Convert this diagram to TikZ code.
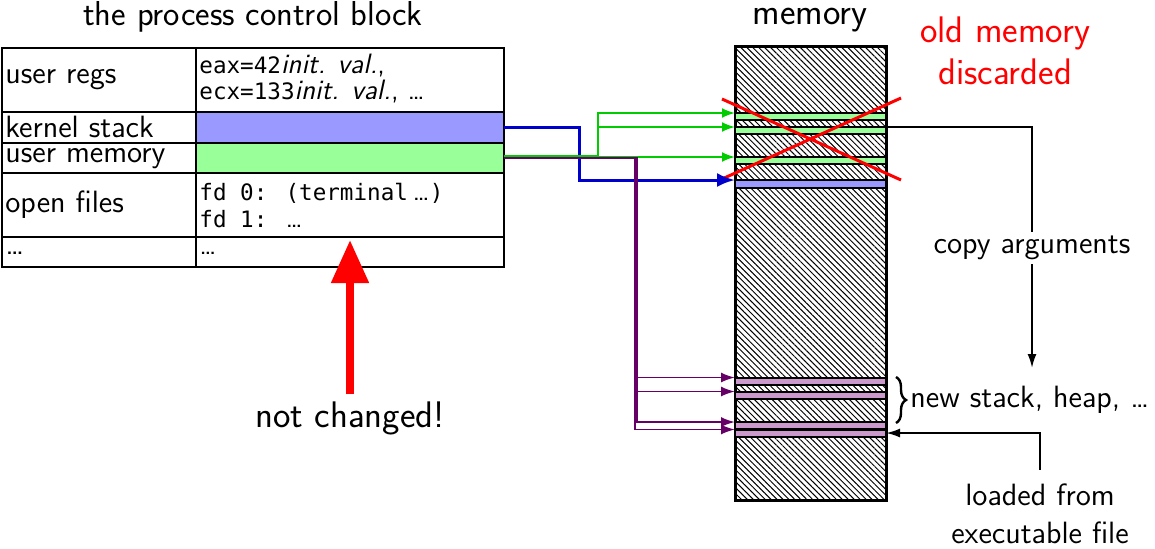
\documentclass[tikz,border=0pt]{standalone}
\usepackage{fontspec}
\newfontfamily\dvmono{DejaVu Sans Mono}[Scale=1.0]
\usetikzlibrary{arrows.meta,patterns.meta,decorations.pathreplacing,calc}
\definecolor{kfill}{HTML}{9999FF}
\definecolor{ufill}{HTML}{99FF99}
\definecolor{pfill}{HTML}{CC99CC}
\definecolor{gline}{HTML}{00CC00}
\definecolor{bline}{HTML}{0000CC}
\definecolor{pline}{HTML}{660066}
\newcommand\fbody{\fontsize{15.4}{19}\selectfont}
\newcommand\flarge{\fontsize{18.5}{21}\selectfont}
\newcommand\ftitle{\fontsize{17.3}{20}\selectfont}
\newcommand\fcell{\fontsize{14}{14}\selectfont}
\newcommand\fmono{\dvmono\fontsize{11.3}{13}\selectfont}
\begin{document}
\begin{tikzpicture}[x=0.5pt,y=-0.5pt,font=\sffamily,
  cell/.style={draw,line width=0.6pt,inner sep=0,outer sep=0,anchor=north west},
  lbl/.style={anchor=base west,inner sep=0,font=\sffamily\fbody},
  rlbl/.style={anchor=base west,inner sep=0,font=\sffamily\fcell},
  band/.style={draw,line width=1pt,minimum width=75.5pt,minimum height=3.5pt,inner sep=0,outer sep=0},
  garrow/.style={gline,line width=1pt,-{Latex[length=6.5pt,width=5pt]}},
  parrow/.style={pline,line width=0.9pt,-{Latex[length=7pt,width=5pt]}},
  barrow/.style={bline,line width=1.5pt,-{Latex[length=9pt,width=7pt]}},
  karrow/.style={black,line width=1pt,-{Latex[length=7pt,width=4.5pt]}}]
\useasboundingbox (0,0) rectangle (1155,548);

% title
\node[font=\sffamily\ftitle] (pcbtitle) at (253,17) {the process control block};

% table cells
\node[cell,minimum width=97pt,minimum height=32pt] (c11) at (2,48) {};
\node[cell,minimum width=154pt,minimum height=32pt] (c12) at (196,48) {};
\node[cell,minimum width=97pt,minimum height=15.5pt] (c21) at (2,112) {};
\node[cell,minimum width=154pt,minimum height=15.5pt,fill=kfill] (ks) at (196,112) {};
\node[cell,minimum width=97pt,minimum height=15pt] (c31) at (2,143) {};
\node[cell,minimum width=154pt,minimum height=15pt,fill=ufill] (um) at (196,143) {};
\node[cell,minimum width=97pt,minimum height=32pt] (c41) at (2,173) {};
\node[cell,minimum width=154pt,minimum height=32pt] (c42) at (196,173) {};
\node[cell,minimum width=97pt,minimum height=15pt] (c51) at (2,237) {};
\node[cell,minimum width=154pt,minimum height=15pt] (c52) at (196,237) {};

% table texts
\node[lbl] (t1) at (5,83) {user regs};
\node[lbl] (t2) at (5,137) {kernel stack};
\node[lbl] (t3) at (5,162) {user memory};
\node[lbl] (t4) at (5,212) {open files};
\node[lbl] (t5) at (5,254) {…};
\node[rlbl] (r1a) at (199,73) {{\fmono eax=42}\textit{init. val.},};
\node[rlbl] (r1b) at (199,99) {{\fmono ecx=133}\textit{init. val.}, …};
\node[rlbl] (r4a) at (199,200) {{\fmono fd 0: (terminal}\,…{\fmono )}};
\node[rlbl] (r4b) at (199,227) {{\fmono fd 1: }…};
\node[rlbl] (r5) at (199,254) {…};

% memory
\node[font=\sffamily\flarge,inner sep=0] (memtitle) at (810,20) {memory};
\node[draw,line width=1.5pt,minimum width=75.5pt,minimum height=227pt,inner sep=0,outer sep=0,
  pattern={Lines[angle=-45,distance=2.1pt,line width=0.5pt]}] (mem) at (810.5,273) {};
\node[band,fill=ufill] (g1) at (810.5,116.5) {};
\node[band,fill=ufill] (g2) at (810.5,130.5) {};
\node[band,fill=ufill] (g3) at (810.5,160.5) {};
\node[band,fill=kfill,minimum height=4pt] (bl) at (810.5,184) {};
\node[band,fill=pfill] (pA) at (810.5,381) {};
\node[band,fill=pfill] (pB) at (810.5,395) {};
\node[band,fill=pfill] (pC) at (810.5,425.5) {};
\node[band,fill=pfill] (pD) at (810.5,433) {};

% red X
\coordinate (x1) at (722,99);
\coordinate (x2) at (901,180);
\coordinate (x3) at (722,179);
\coordinate (x4) at (901,98);
\draw[red,line width=1.5pt] (x1) -- (x2);
\draw[red,line width=1.5pt] (x3) -- (x4);
\node[font=\sffamily\flarge,text=red,align=center] (old) at (1005,51) {old memory\\discarded};

% connectors from pcb
\draw[barrow] (ks.east) -- ++(75,0) |- (bl.north west);
\draw[garrow] ([yshift=1pt]um.east) -- ++(94,0) |- (g1.north west);
\draw[garrow] ([yshift=1pt]um.east) -- ++(94,0) |- (g2.north west);
\draw[garrow] ([yshift=1pt]um.east) -- ++(94,0) |- (g3.north west);
\draw[parrow] (um.east) -- ++(133,0) |- (pA.north west);
\draw[parrow] (um.east) -- ++(133,0) |- (pB.north west);
\draw[parrow] (um.east) -- ++(133,0) |- (pC.north west);
\draw[parrow] (um.east) -- ++(131,0) |- (pD.north west);

% copy arguments
\coordinate (cpend) at (1032,368);
\draw[karrow] (g2.north east) -| (cpend);
\node[fill=white,inner sep=2pt,font=\sffamily\fbody] (cp) at (1032,248) {copy arguments};

% brace
\coordinate (brtop) at (896,377);
\coordinate (brbot) at (896,423);
\draw[line width=1.2pt,decorate,decoration={brace,amplitude=5pt}] (brtop) -- (brbot);
\node[anchor=west,inner sep=0,font=\sffamily\fbody] (ns) at (910,400) {new stack, heap, …};

% loaded from
\node[align=center,font=\sffamily\fbody,inner sep=0] (lf) at (1040,514) {loaded from\\executable file};
\draw[karrow] ([yshift=7pt]lf.north) |- (pD.east);

% not changed
\node[font=\sffamily\flarge] (nc) at (350,418) {not changed!};
\coordinate (pcbtip) at (350,240);
\draw[red,line width=4pt,-{Triangle[length=21.5pt,width=18pt]}] (nc.north) -- (pcbtip);
\end{tikzpicture}
\end{document}
